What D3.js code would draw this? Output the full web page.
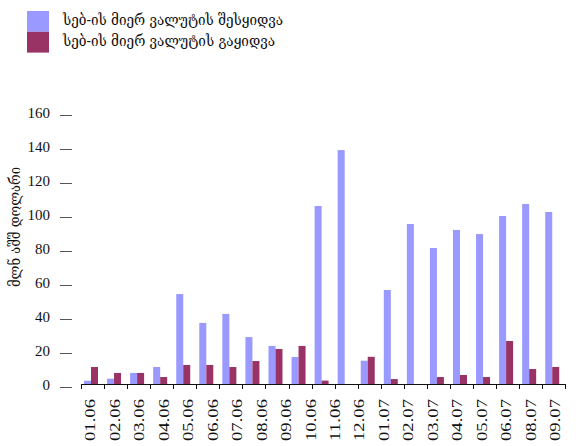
<!DOCTYPE html>
<html>
<head>
<meta charset="utf-8">
<script src="https://cdn.jsdelivr.net/npm/d3@7"></script>
<style>
  html, body { margin: 0; padding: 0; background: #fff; }
  svg { display: block; }
</style>
</head>
<body>
<svg id="chart" width="576" height="446"></svg>
<script>
// Monthly NBG currency operations, mln USD (Jan 2006 – Sep 2007)
const categories = ["01.06","02.06","03.06","04.06","05.06","06.06","07.06","08.06","09.06","10.06","11.06","12.06",
                    "01.07","02.07","03.07","04.07","05.07","06.07","07.07","08.07","09.07"];
const purchases = [1.9, 3.1, 6.5, 10, 52.9, 35.9, 41.2, 27.6, 22.4, 15.9, 104.7, 137.6,
                   13.7, 55.3, 94.1, 80, 90.6, 88.2, 98.8, 105.9, 101.2];
const sales     = [10, 6.5, 6.5, 4.1, 11.2, 11.2, 10, 13.5, 20.6, 22.4, 2, 0,
                   16, 2.9, 0, 4.1, 5.3, 4.1, 25.3, 8.8, 10];
// Labels printed under the axis
const tickLabels = ["01.06","02.06","03.06","04.06","05.06","06.06","07.06","08.06","09.06","10.06",
                    "11.06","12.06","01.07","02.07","03.07","04.07","05.07","06.07","08.07","09.07"];
const seriesNames = ["სებ-ის მიერ ვალუტის შესყიდვა", "სებ-ის მიერ ვალუტის გაყიდვა"];
const seriesColors = ["#9999FF", "#993366"];
const yTitle = "მლნ აშშ დოლარი";
const yTicks = [0, 20, 40, 60, 80, 100, 120, 140, 160];

const svg = d3.select("#chart");
const serif = "'Liberation Serif', 'Times New Roman', serif";
const geo = "'DejaVu Serif', 'DejaVu Sans', serif";

const x = d3.scaleBand().domain(d3.range(categories.length)).range([81, 565.3]).padding(0);
const x1 = d3.scaleBand().domain([0, 1]).range([0, x.bandwidth()])
  .paddingInner(0).paddingOuter(0.647).align(0.33);
const y = d3.scaleLinear().domain([0, 160]).range([384, 112]);

// y tick marks and labels
const yg = svg.append("g");
yg.selectAll("line").data(yTicks).join("line")
  .attr("x1", 60).attr("x2", 72)
  .attr("y1", d => y(d) + 3.5).attr("y2", d => y(d) + 3.5)
  .attr("stroke", "#555").attr("stroke-width", 1);
yg.selectAll("text").data(yTicks).join("text")
  .attr("x", 50).attr("y", d => y(d) + 1).attr("dy", "0.35em")
  .attr("text-anchor", "end")
  .style("font-family", serif).attr("font-size", 15).attr("fill", "#111")
  .text(d => d);

// y axis title
svg.append("text")
  .attr("transform", "translate(15,227) rotate(-90)")
  .attr("text-anchor", "middle").attr("dy", "0.35em")
  .style("font-family", geo).attr("font-size", 14).attr("fill", "#111")
  .attr("textLength", 120).attr("lengthAdjust", "spacingAndGlyphs")
  .text(yTitle);

// bars
const groups = svg.append("g").selectAll("g").data(categories).join("g")
  .attr("transform", (d, i) => `translate(${x(i)},0)`);
groups.selectAll("rect")
  .data((d, i) => [purchases[i], sales[i]])
  .join("rect")
  .attr("x", (v, s) => x1(s))
  .attr("width", x1.bandwidth())
  .attr("y", v => y(v))
  .attr("height", v => y(0) - y(v))
  .attr("fill", (v, s) => seriesColors[s]);

// x axis line and slot ticks
const [x0, xEnd] = x.range();
svg.append("line")
  .attr("x1", x0).attr("x2", xEnd).attr("y1", y(0) + 0.5).attr("y2", y(0) + 0.5)
  .attr("stroke", "#111").attr("stroke-width", 1);
const bounds = d3.range(categories.length + 1).map(i => x0 + i * x.step());
svg.append("g").selectAll("line").data(bounds).join("line")
  .attr("x1", d => Math.round(d) + 0.5).attr("x2", d => Math.round(d) + 0.5)
  .attr("y1", y(0)).attr("y2", y(0) + 5)
  .attr("stroke", "#111").attr("stroke-width", 1);

// x labels, spread evenly under the axis
const xl = d3.scalePoint().domain(tickLabels).range([90, 555]);
svg.append("g").selectAll("text").data(tickLabels).join("text")
  .attr("transform", d => `translate(${xl(d)},399) rotate(-90)`)
  .attr("text-anchor", "end").attr("dy", "0.35em")
  .style("font-family", serif).attr("font-size", 15).attr("fill", "#111")
  .attr("textLength", 42).attr("lengthAdjust", "spacingAndGlyphs")
  .text(d => d);

// legend
const legend = svg.append("g");
const legendWidths = [220, 212];
seriesNames.forEach((name, i) => {
  legend.append("rect")
    .attr("x", 27).attr("y", 11 + i * 20.8).attr("width", 22).attr("height", 20.8)
    .attr("fill", seriesColors[i]);
  legend.append("text")
    .attr("x", 63).attr("y", 20 + i * 21).attr("dy", "0.35em")
    .style("font-family", geo).attr("font-size", 14).attr("fill", "#111")
    .attr("textLength", legendWidths[i]).attr("lengthAdjust", "spacingAndGlyphs")
    .text(name);
});
</script>
</body>
</html>
